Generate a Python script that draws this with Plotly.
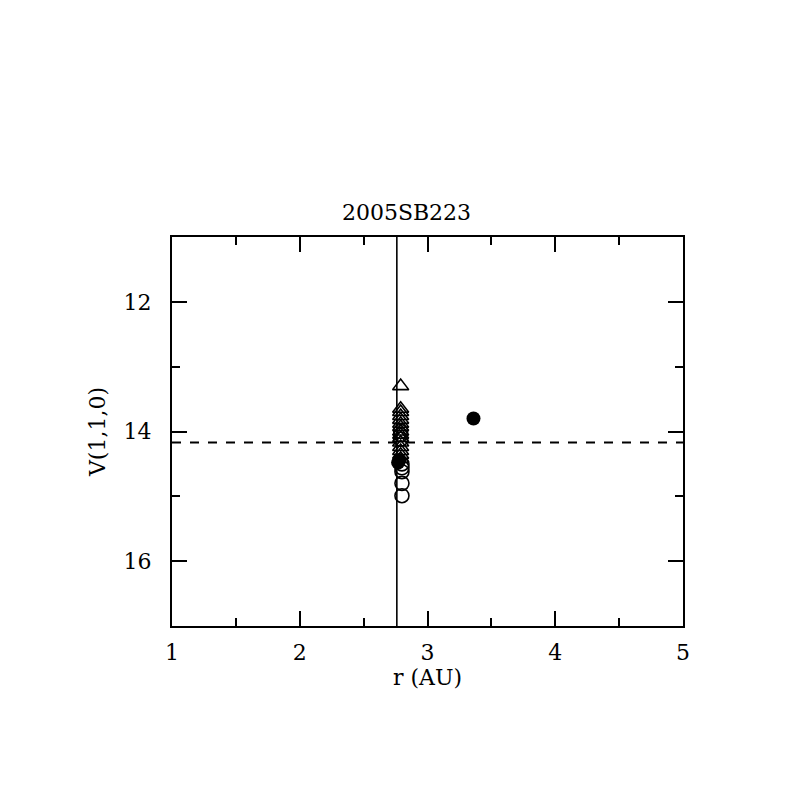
import plotly.graph_objects as go

# data
tri_r = [2.79, 2.79, 2.79, 2.79, 2.79, 2.79, 2.79, 2.79, 2.79, 2.79, 2.79, 2.79, 2.79, 2.79, 2.79]
tri_v = [13.3, 13.65, 13.7, 13.76, 13.82, 13.88, 13.93, 14.0, 14.05, 14.1, 14.17, 14.24, 14.3, 14.36, 14.42]
oc_r = [2.79, 2.79, 2.79, 2.8, 2.8, 2.8, 2.8, 2.8]
oc_v = [14.0, 14.05, 14.12, 14.5, 14.56, 14.62, 14.8, 14.99]
fc_r = [2.77, 2.78, 3.36]
fc_v = [14.48, 14.44, 13.8]
vline_r = 2.76
hline_v = 14.17

font = "DejaVu Serif"
fs = 22
fig = go.Figure()
fig.add_trace(go.Scatter(x=tri_r, y=tri_v, mode="markers",
                         marker=dict(symbol="triangle-up-open", size=14, color="black", line=dict(width=1.6))))
fig.add_trace(go.Scatter(x=oc_r, y=oc_v, mode="markers",
                         marker=dict(symbol="circle-open", size=14, color="black", line=dict(width=1.6))))
fig.add_trace(go.Scatter(x=fc_r, y=fc_v, mode="markers",
                         marker=dict(symbol="circle", size=14, color="black")))

fig.add_shape(type="line", x0=vline_r, x1=vline_r, y0=0, y1=1, xref="x", yref="paper",
              line=dict(color="black", width=1.6))
fig.add_shape(type="line", x0=0, x1=1, y0=hline_v, y1=hline_v, xref="paper", yref="y",
              line=dict(color="black", width=1.8, dash="dash"))

axis_common = dict(showgrid=False, zeroline=False, showline=True, linecolor="black", linewidth=2,
                   mirror="allticks", ticks="inside", ticklen=15, tickwidth=1.6, tickcolor="black",
                   tickfont=dict(family=font, size=fs, color="black"))
fig.update_xaxes(range=[1, 5], tickvals=[1, 2, 3, 4, 5], ticklabelstandoff=6,
                 minor=dict(tickvals=[1.5, 2.5, 3.5, 4.5], ticklen=8, tickwidth=1.6, tickcolor="black", ticks="inside"),
                 title=dict(text="r (AU)", font=dict(family=font, size=fs, color="black"), standoff=4),
                 **axis_common)
fig.update_yaxes(range=[17, 11], tickvals=[12, 14, 16], ticklabelstandoff=14,
                 minor=dict(tickvals=[11, 13, 15, 17], ticklen=8, tickwidth=1.6, tickcolor="black", ticks="inside"),
                 title=dict(text="V(1,1,0)", font=dict(family=font, size=fs, color="black"), standoff=12),
                 **axis_common)
fig.update_layout(width=797, height=797, plot_bgcolor="white", paper_bgcolor="white",
                  showlegend=False,
                  margin=dict(l=164, r=122, t=229, b=179),
                  title=dict(text="2005SB223", x=0.5, xanchor="center", y=1 - 204 / 797, yanchor="middle",
                             font=dict(family=font, size=fs, color="black")))
fig.write_html("out.html")
